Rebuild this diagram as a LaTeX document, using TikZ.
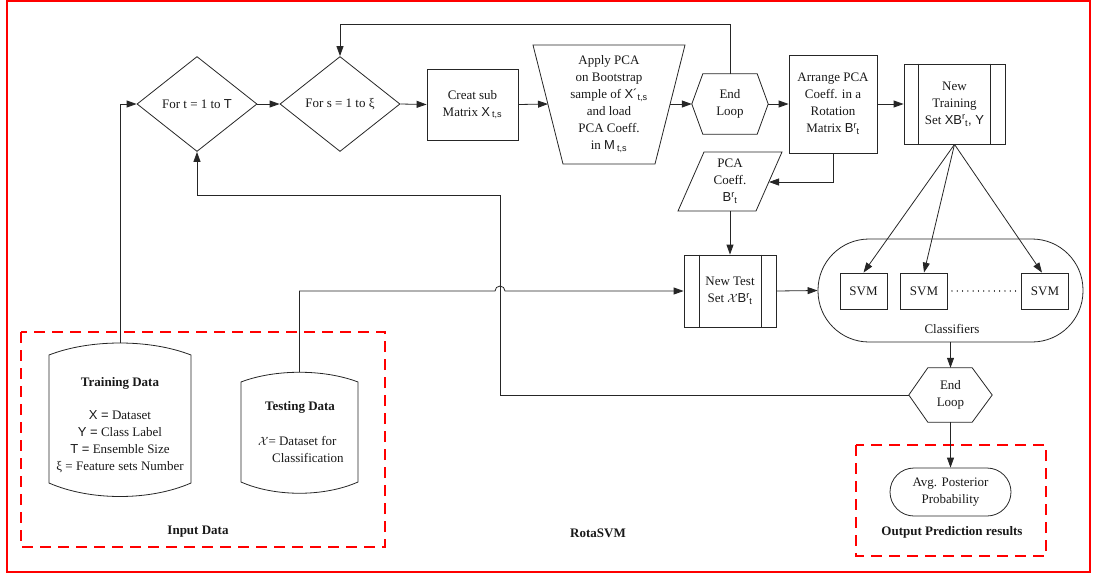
\documentclass[tikz,border=0pt]{standalone}
\usepackage{fontspec}
\setmainfont{Liberation Serif}
\newfontfamily\sansfam{Liberation Sans}
\usetikzlibrary{arrows.meta,calc,shapes.geometric}
\newcommand{\mysupsub}[2]{\textsuperscript{#1}\kern-0.5pt\textsubscript{#2}}
\begin{document}
\begin{tikzpicture}[x=1pt,y=-1pt,
  every node/.style={font=\fontsize{13}{17}\selectfont, align=center, inner sep=0pt, text=black!90},
  box/.style={draw=black!85, rectangle, line width=0.8pt},
  ln/.style={draw=black!85, line width=0.8pt},
  arr/.style={draw=black!85, -{Triangle[length=10pt,width=7pt]}, line width=0.8pt},
  reddash/.style={draw=red, line width=2pt, dash pattern=on 11pt off 7pt},
  dia/.style={draw=black!85, diamond, aspect=1.263, minimum width=120pt, minimum height=95pt, line width=0.8pt},
  roundbox/.style={draw=black!85, line width=0.8pt, rectangle}
]
\useasboundingbox (0,0) rectangle (1093,574);
% outer frame
\draw[red, line width=2pt] (7,1) rectangle (1090,572);
\draw[reddash] (21,332) rectangle (385,547);
\draw[reddash] (856,445) rectangle (1046,556);
\node (inlbl) at (198,532) {\bfseries Input Data};
\node (outlbl) at (952,532) {\bfseries Output Prediction results};
\node (rota) at (598,533) {\bfseries RotaSVM};

% top row
\node[dia] (fort) at (197,104) {For t = 1 to {\sansfam T}};
\node[dia] (fors) at (340,104) {For s = 1 to ξ};
\node[box, minimum width=91pt, minimum height=71pt] (creat) at (472.5,104.5) {Creat sub\\Matrix {\sansfam X\,\textsubscript{t,s}}};
\draw[ln] (533,45) -- (685,45) -- (655,164) -- (563,164) -- cycle;
\node (pca) at (609,104) {Apply PCA\\on Bootstrap\\sample of {\sansfam X´\textsubscript{t,s}}\\and load\\PCA Coeff.\\in {\sansfam M\,\textsubscript{t,s}}};
\coordinate (pcaL) at (548,104);
\coordinate (pcaR) at (670,104);
\node[minimum width=76pt, minimum height=60pt] (end1) at (730,104) {End\\Loop};
\draw[ln] (end1.west) -- ([xshift=11pt]end1.north west) -- ([xshift=-11pt]end1.north east) -- (end1.east) -- ([xshift=-11pt]end1.south east) -- ([xshift=11pt]end1.south west) -- cycle;
\node[box, minimum width=88pt, minimum height=98pt] (arrange) at (833,104) {Arrange PCA\\Coeff. in a\\Rotation\\Matrix {\sansfam B\mysupsub{r}{t}}};
\node[box, minimum width=101pt, minimum height=80pt] (ntr) at (954.5,104) {New\\Training\\Set {\sansfam XB\mysupsub{r}{t}, Y}};
\draw[ln] ([xshift=15pt]ntr.north west) -- ([xshift=15pt]ntr.south west);
\draw[ln] ([xshift=-15pt]ntr.north east) -- ([xshift=-15pt]ntr.south east);

% PCA coeff parallelogram
\draw[ln] (704,152) -- (782,152) -- (756,211) -- (678,211) -- cycle;
\node (pcc) at (730,181.5) {PCA\\Coeff.\\{\sansfam B\mysupsub{r}{t}}};
\coordinate (pccR) at (769,182);
\coordinate (pccB) at (730,211);

% new test set
\node[box, minimum width=92pt, minimum height=72pt] (nts) at (730,291) {New Test\\Set $\mathcal{X}${\sansfam B\mysupsub{r}{t}}};
\draw[ln] ([xshift=16pt]nts.north west) -- ([xshift=16pt]nts.south west);
\draw[ln] ([xshift=-15pt]nts.north east) -- ([xshift=-15pt]nts.south east);

% classifiers
\node[roundbox, rounded corners=51pt, minimum width=265pt, minimum height=103pt] (cls) at (950.5,290.5) {};
\node (clslbl) at (952,329) {Classifiers};
\node[box, minimum width=47pt, minimum height=36pt] (svm1) at (863.5,291) {SVM};
\node[box, minimum width=47pt, minimum height=36pt] (svm2) at (924,291) {SVM};
\node[box, minimum width=47pt, minimum height=36pt] (svm3) at (1045,291) {SVM};
\draw[draw=black!85, line width=1.1pt, line cap=round, dash pattern=on 0.1pt off 5.2pt] ([xshift=4pt]svm2.east) -- ([xshift=-3pt]svm3.west);

% end loop 2 and output
\node[minimum width=83pt, minimum height=54pt] (end2) at (950.5,395) {End\\Loop};
\draw[ln] (end2.west) -- ([xshift=19pt]end2.north west) -- ([xshift=-20pt]end2.north east) -- (end2.east) -- ([xshift=-20pt]end2.south east) -- ([xshift=19pt]end2.south west) -- cycle;
\node[roundbox, rounded corners=24pt, minimum width=121pt, minimum height=48pt] (avg) at (950.5,492) {Avg. Posterior\\Probability};

% training data cylinder
\draw[ln] (49,355) .. controls (90,339) and (150,339) .. (191,355) -- (191,483) .. controls (150,501) and (90,501) .. (49,483) -- cycle;
\coordinate (trtop) at (120,343);
\node (trd) at (120,383) {\bfseries Training Data};
\node (trtxt) at (120,441.5) {{\sansfam X =} Dataset\\{\sansfam Y =} Class Label\\{\sansfam T =} Ensemble Size\\ξ = Feature sets Number};

% testing data cylinder
\draw[ln] (241,382) .. controls (275,369) and (324,369) .. (358,382) -- (358,482) .. controls (324,497) and (275,497) .. (241,482) -- cycle;
\coordinate (tstop) at (299.5,372);
\node (tsd) at (300,407) {\bfseries Testing Data};
\node[anchor=west, align=left] (tstxt) at (258,449.5) {$\mathcal{X}$= Dataset for\\\hspace*{14pt}Classification};

% connectors
\coordinate (tsA) at (299.5,291);
\coordinate (jmp) at (495,291);
\coordinate (fbA) at (500,395);
\coordinate (fbB) at (500,195);
\draw[arr] (trtop) |- (fort.west);
\draw[arr] (fort.east) -- (fors.west);
\draw[arr] (fors.east) -- (creat.west);
\draw[arr] (creat.east) -- (pcaL);
\draw[arr] (pcaR) -- (end1.west);
\draw[arr] (end1.east) -- (arrange.west);
\draw[arr] (arrange.east) -- (ntr.west);
\draw[arr] (end1.north) -- ++(0,-49) -| (fors.north);
\draw[arr] (arrange.south) |- (pccR);
\draw[arr] (pccB) -- (nts.north);
\draw[arr] (nts.east) -- (cls.west);
\draw[arr] (ntr.south) -- (svm1.north);
\draw[arr] (ntr.south) -- (svm2.north);
\draw[arr] (ntr.south) -- ([xshift=-3pt]svm3.north);
\draw[arr] (cls.south) -- (end2.north);
\draw[arr] (end2.south) -- (avg.north);
\draw[arr] (end2.west) -- (fbA) -- (fbB) -| (fort.south);
\draw[arr] (tstop) -- (tsA) -- (jmp) arc[start angle=180, end angle=0, radius=5pt] -- (nts.west);
\end{tikzpicture}
\end{document}
